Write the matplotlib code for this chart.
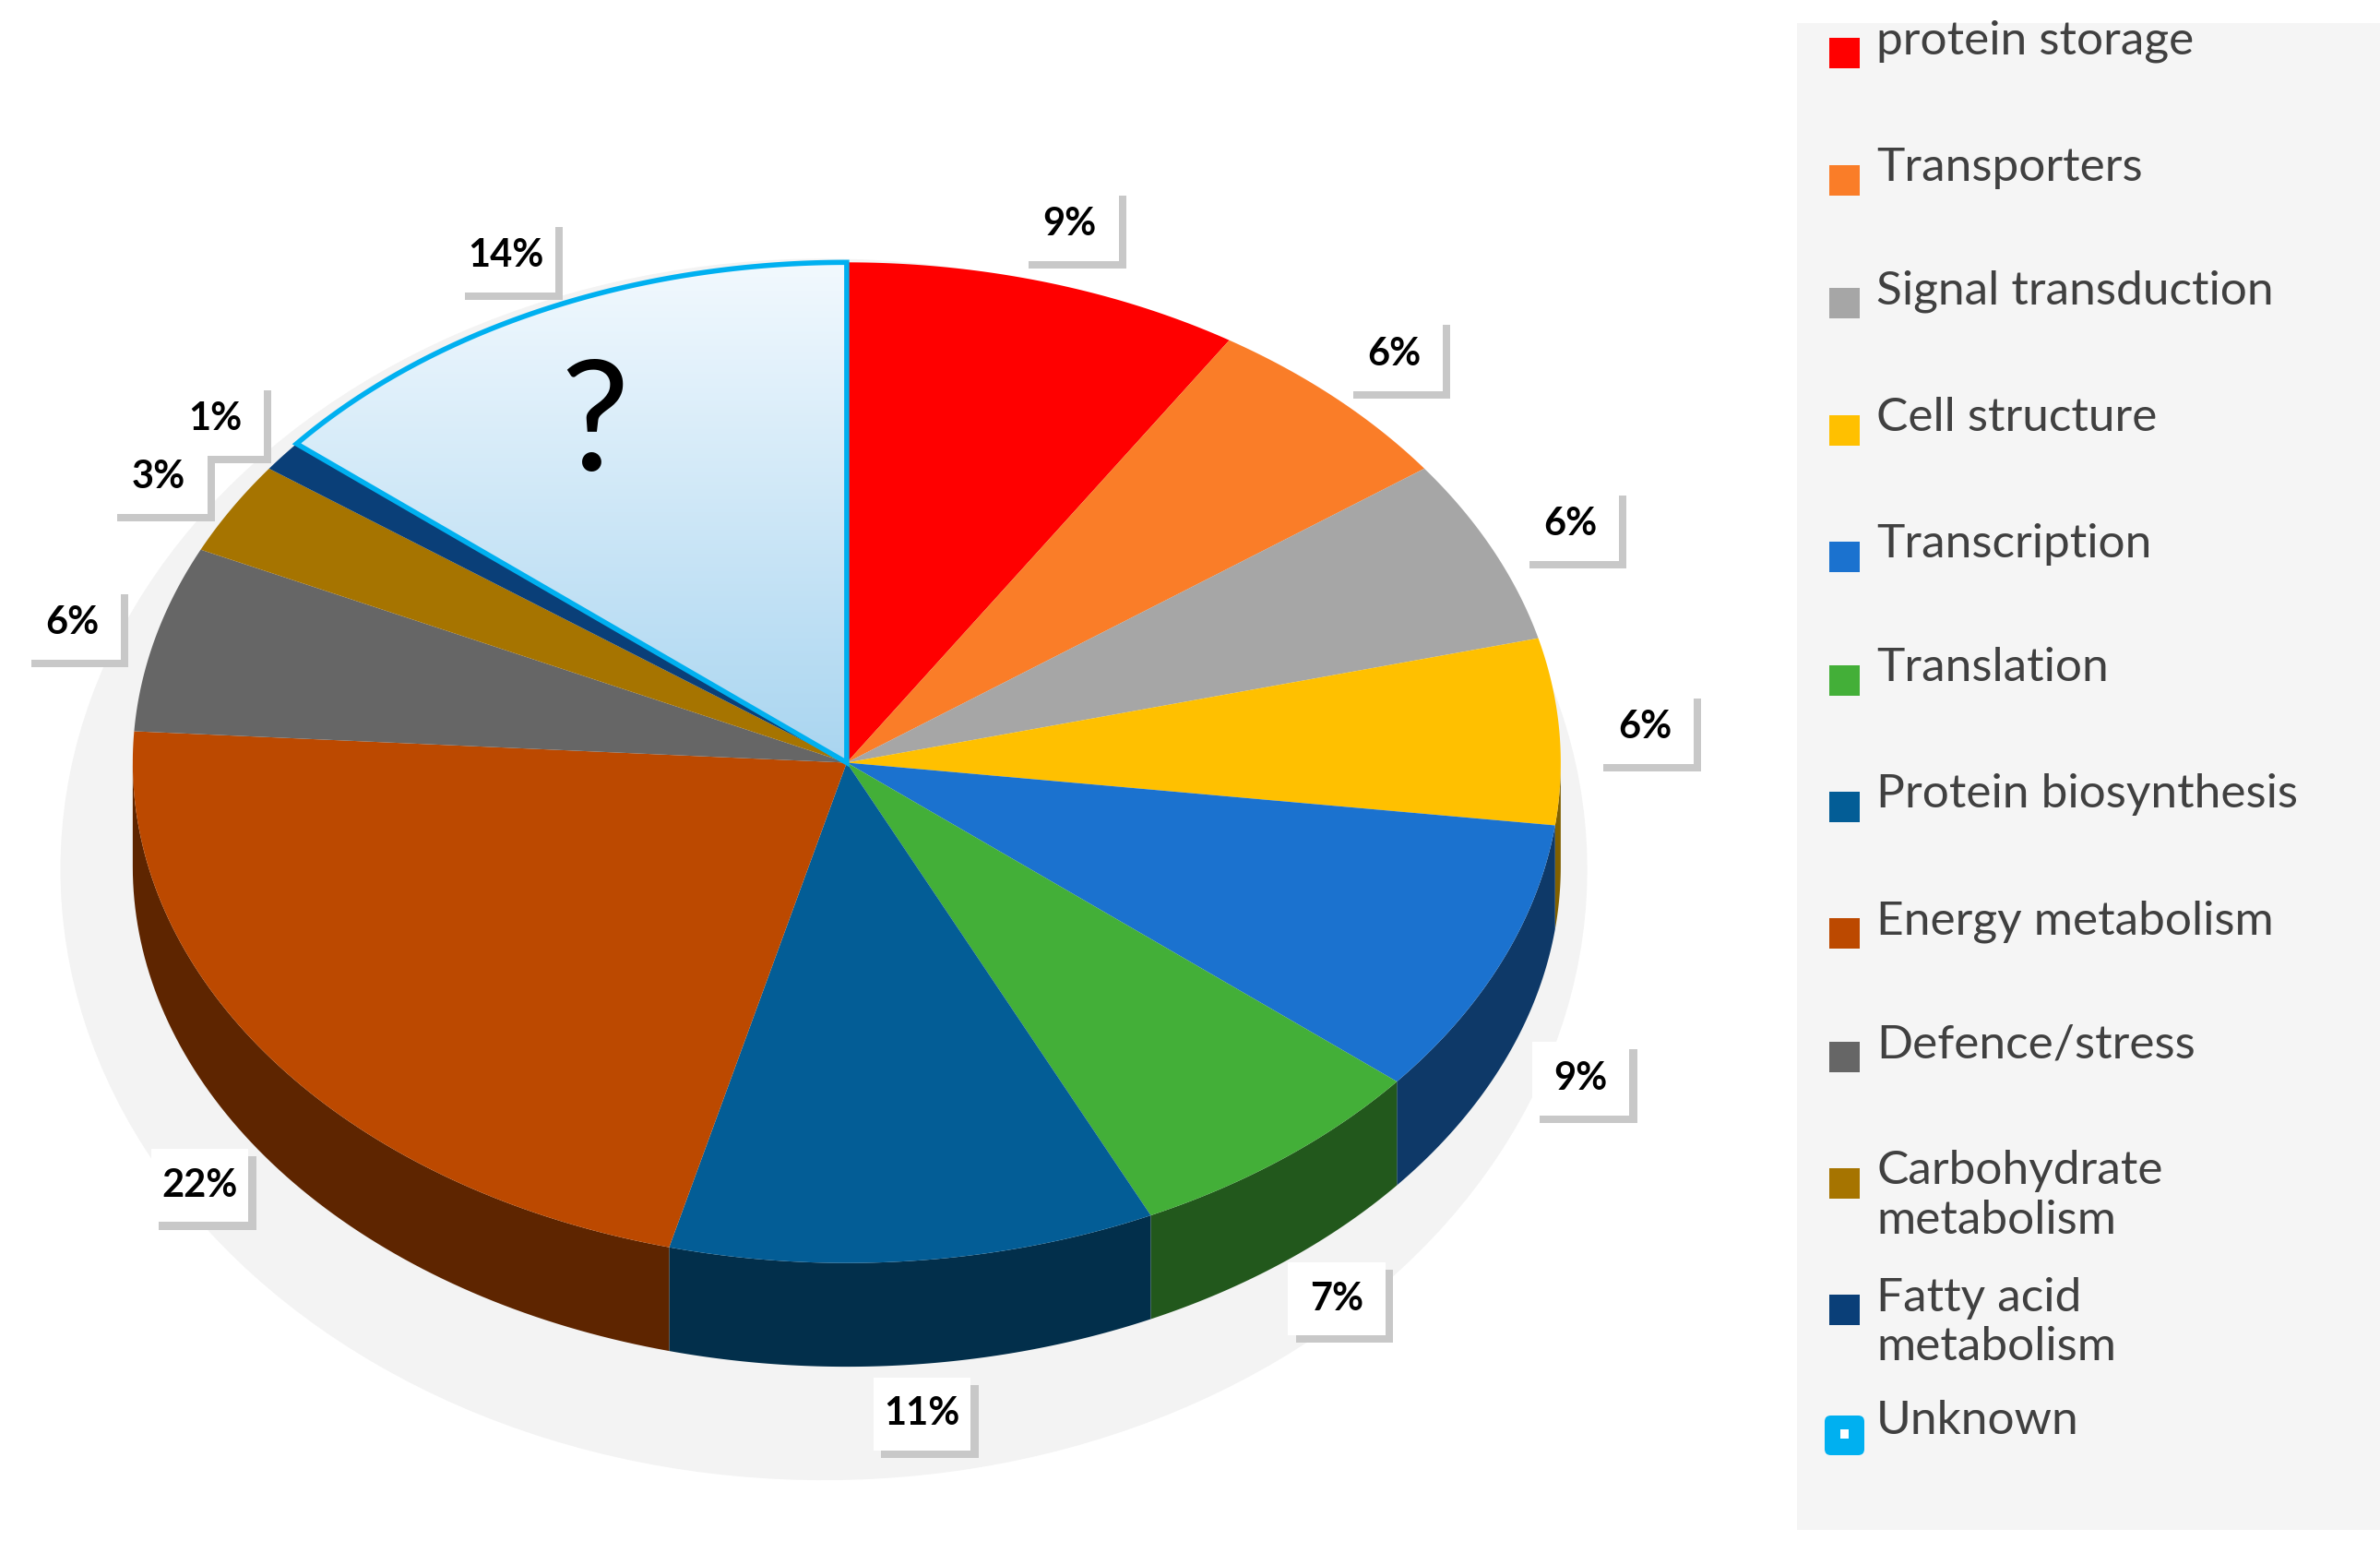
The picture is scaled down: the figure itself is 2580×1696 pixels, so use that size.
import numpy as np
import matplotlib
matplotlib.use("Agg")
import matplotlib.pyplot as plt
from matplotlib.patches import Polygon, Rectangle, FancyBboxPatch
from matplotlib.colors import to_rgb

plt.rcParams['font.family'] = ['Lato', 'DejaVu Sans']

categories = ["protein storage", "Transporters", "Signal transduction", "Cell structure",
              "Transcription", "Translation", "Protein biosynthesis", "Energy metabolism",
              "Defence/stress", "Carbohydrate\nmetabolism", "Fatty acid\nmetabolism", "Unknown"]
values = [9, 6, 6, 6, 9, 7, 11, 22, 6, 3, 1, 14]
colors = ["#FF0000", "#FA7D28", "#A6A6A6", "#FFC000", "#1B72CF", "#43AF38", "#035D96",
          "#BC4900", "#666666", "#A67400", "#0A3F78", "#DCEEFA"]
labels = [f"{v}%" for v in values]

W, H = 1560, 1026
fig = plt.figure(figsize=(25.8, 16.96), dpi=100)
ax = fig.add_axes([0, 0, 1, 1])
ax.set_xlim(0, W); ax.set_ylim(H, 0); ax.axis("off")

cx, cy, rx, ry, depth = 555, 500, 468, 328, 68

def pt(t, r=1.0, dy=0):
    return cx + rx * r * np.cos(t), cy - ry * r * np.sin(t) + dy

def darker(c, f=0.5):
    return tuple(np.array(to_rgb(c)) * f)

fracs = np.array(values) / sum(values)
starts = np.pi / 2 - np.concatenate([[0], np.cumsum(fracs)[:-1]]) * 2 * np.pi
ends = starts - fracs * 2 * np.pi

# faint shadow
sh_t = np.linspace(0, 2 * np.pi, 200)
ax.fill(cx - 15 + 500 * np.cos(sh_t), cy + 70 + 400 * np.sin(sh_t), color="#F3F3F3", zorder=0)

# side walls
for s, e, c in zip(starts, ends, colors):
    a, b = max(e, -np.pi), min(s, 0)
    if a < b:
        t = np.linspace(a, b, 80)
        x, y = pt(t)
        xs = np.concatenate([x, x[::-1]])
        ys = np.concatenate([y, (y + depth)[::-1]])
        ax.add_patch(Polygon(np.c_[xs, ys], closed=True, fc=darker(c), ec="none", zorder=1))

# top faces
for i, (s, e, c) in enumerate(zip(starts, ends, colors)):
    t = np.linspace(s, e, 120)
    x, y = pt(t)
    poly = np.c_[np.r_[cx, x], np.r_[cy, y]]
    if categories[i] == "Unknown":
        ax.add_patch(Polygon(poly, closed=True, fc="none", ec="#00B0F0", lw=4, zorder=3))
        grad = np.linspace(0, 1, 256)[:, None]
        top, bot = np.array(to_rgb("#F2F9FE")), np.array(to_rgb("#A9D5F0"))
        img = top + (bot - top) * grad[..., None]
        im = ax.imshow(np.repeat(img, 2, axis=1), extent=(poly[:, 0].min(), poly[:, 0].max(),
                       poly[:, 1].max(), poly[:, 1].min()), zorder=2, aspect="auto")
        im.set_clip_path(Polygon(poly, closed=True, transform=ax.transData))
        ax.text(390, 280, "?", fontsize=120, ha="center", va="center", zorder=4, color="black")
    else:
        ax.add_patch(Polygon(poly, closed=True, fc=c, ec="none", zorder=2))

# percentage labels
for s, e, lab in zip(starts, ends, labels):
    m = (s + e) / 2
    x, y = pt(m, 1.12)
    if np.sin(m) < 0:
        y += depth * 0.9
    ax.add_patch(Rectangle((x - 32 + 5, y - 24 + 5), 64, 48, fc="#C8C8C8", ec="none", zorder=5))
    ax.add_patch(Rectangle((x - 32, y - 24), 64, 48, fc="white", ec="none", zorder=6))
    ax.text(x, y, lab, fontsize=30, fontweight="bold", ha="center", va="center", zorder=7)

# legend
ax.add_patch(Rectangle((1178, 15), 382, 988, fc="#F5F5F5", ec="none", zorder=0))
ly = [35, 118, 199, 282, 365, 446, 529, 612, 693, 776, 859, 940]
for yy, c, cat in zip(ly, colors, categories):
    if cat == "Unknown":
        ax.add_patch(FancyBboxPatch((1196, yy - 12), 26, 26, boxstyle="round,pad=0,rounding_size=4",
                                    fc="#00B0F0", ec="none", zorder=3))
        ax.add_patch(Rectangle((1206, yy - 3), 6, 6, fc="white", ec="none", zorder=4))
    else:
        ax.add_patch(Rectangle((1199, yy - 10), 20, 20, fc=c, ec="none", zorder=3))
    ax.text(1230, yy - 22, cat, fontsize=37, color="#404040", ha="left", va="top",
            linespacing=1.2, zorder=3)

fig.savefig("out.png", dpi=100)
